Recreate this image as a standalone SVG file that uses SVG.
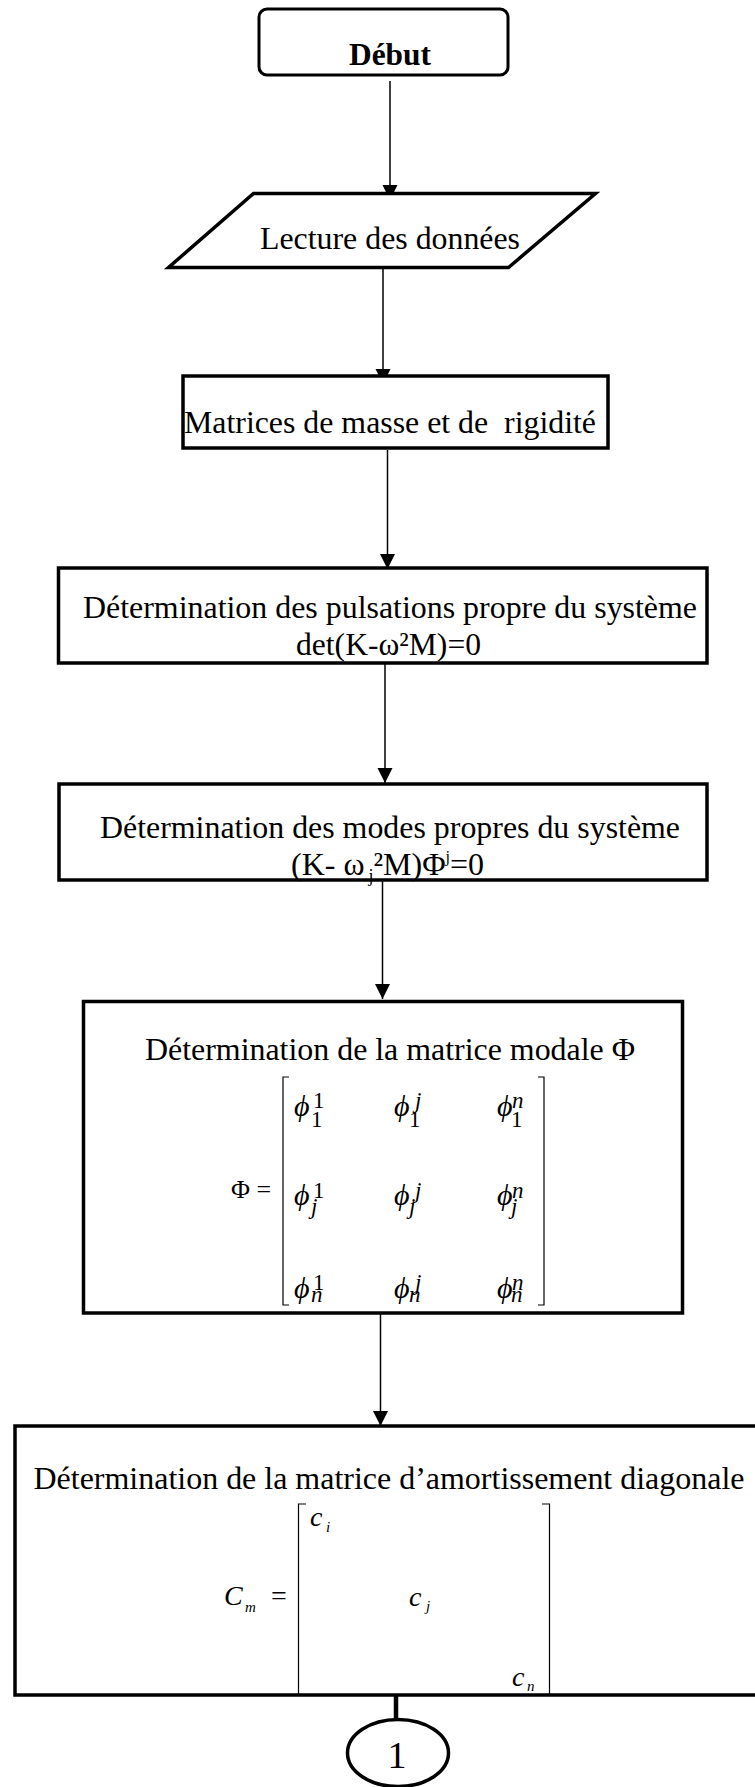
<svg xmlns="http://www.w3.org/2000/svg" width="755" height="1787" viewBox="0 0 755 1787">
<style>
text{font-family:"Liberation Serif","Times New Roman",serif;fill:#000}
.t{font-size:32px}
.b{font-weight:bold}
.box{fill:#fff;stroke:#000;stroke-width:3.5}
.conn{stroke:#000;stroke-width:1.5;fill:none}
.brk{stroke:#000;stroke-width:1.2;fill:none}
.ph{font-size:30px;font-style:italic}
.sc{font-size:23px;font-style:normal}
.si{font-size:23px;font-style:italic}
.c{font-size:28px;font-style:italic}
.cs{font-size:15px;font-style:italic}
</style>
<defs>
<marker id="arr" markerUnits="userSpaceOnUse" markerWidth="16" markerHeight="16" refX="15" refY="7.5" orient="auto">
<path d="M0,0 L15,7.5 L0,15 Z" fill="#000"/>
</marker>
</defs>
<rect width="755" height="1787" fill="#fff"/>

<g id="connectors">
<line class="conn" x1="390" y1="81" x2="390" y2="200" marker-end="url(#arr)"/>
<line class="conn" x1="383" y1="266" x2="383" y2="384" marker-end="url(#arr)"/>
<line class="conn" x1="387.5" y1="450" x2="387.5" y2="569" marker-end="url(#arr)"/>
<line class="conn" x1="385" y1="663" x2="385" y2="783" marker-end="url(#arr)"/>
<line class="conn" x1="382.5" y1="880" x2="382.5" y2="999" marker-end="url(#arr)"/>
<line class="conn" x1="380.5" y1="1309" x2="380.5" y2="1426" marker-end="url(#arr)"/>
<line x1="396" y1="1695" x2="396" y2="1720" stroke="#000" stroke-width="4.5"/>
</g>

<g id="debut">
<rect x="259" y="9" width="249" height="66" rx="8" fill="#fff" stroke="#000" stroke-width="3"/>
<text class="t b" x="349" y="65" textLength="82" lengthAdjust="spacingAndGlyphs">Début</text>
</g>

<g id="lecture">
<polygon class="box" points="253.5,193.5 595.5,193.5 508.5,267.5 168.5,267.5"/>
<text class="t" x="260" y="249" textLength="260" lengthAdjust="spacingAndGlyphs">Lecture des données</text>
</g>

<g id="matrices">
<rect class="box" x="183" y="376" width="425" height="72"/>
<text class="t" x="184" y="433" textLength="412" lengthAdjust="spacingAndGlyphs" xml:space="preserve">Matrices de masse et de  rigidité</text>
</g>

<g id="pulsations">
<rect class="box" x="58.5" y="568" width="648.5" height="95"/>
<text class="t" x="83" y="618" textLength="614" lengthAdjust="spacingAndGlyphs">Détermination des pulsations propre du système</text>
<text class="t" x="296" y="655" textLength="185" lengthAdjust="spacingAndGlyphs">det(K-ω²M)=0</text>
</g>

<g id="modes">
<rect class="box" x="59" y="784" width="648" height="96"/>
<text class="t" x="100" y="838" textLength="580" lengthAdjust="spacingAndGlyphs">Détermination des modes propres du système</text>
<text class="t" x="291" y="875">(K- ω <tspan font-size="18" dx="-4" dy="7">j</tspan><tspan dy="-7">²M)Φ</tspan><tspan font-size="16" dy="-13">j</tspan><tspan dy="13">=0</tspan></text>
</g>

<g id="modale">
<rect class="box" x="83.5" y="1001.5" width="599" height="311.5"/>
<text class="t" x="145" y="1060" textLength="490" lengthAdjust="spacingAndGlyphs">Détermination de la matrice modale Φ</text>
<text x="231" y="1198" font-size="26">Φ =</text>
<path class="brk" d="M289,1077 H283 V1305 H289"/>
<path class="brk" d="M538,1077 H544 V1305 H538"/>
<text class="ph" x="294" y="1116">ϕ<tspan class="sc" x="313" y="1108">1</tspan><tspan class="sc" x="311" y="1127">1</tspan></text>
<text class="ph" x="394" y="1116">ϕ<tspan class="si" x="415" y="1108">j</tspan><tspan class="sc" x="409" y="1127">1</tspan></text>
<text class="ph" x="497" y="1116">ϕ<tspan class="si" x="512" y="1108">n</tspan><tspan class="sc" x="511" y="1127">1</tspan></text>
<text class="ph" x="294" y="1205">ϕ<tspan class="sc" x="313" y="1198">1</tspan><tspan class="si" x="311" y="1214">j</tspan></text>
<text class="ph" x="394" y="1205">ϕ<tspan class="si" x="415" y="1198">j</tspan><tspan class="si" x="409" y="1214">j</tspan></text>
<text class="ph" x="497" y="1205">ϕ<tspan class="si" x="512" y="1198">n</tspan><tspan class="si" x="511" y="1214">j</tspan></text>
<text class="ph" x="294" y="1298">ϕ<tspan class="sc" x="313" y="1290">1</tspan><tspan class="si" x="311" y="1302">n</tspan></text>
<text class="ph" x="394" y="1298">ϕ<tspan class="si" x="415" y="1290">j</tspan><tspan class="si" x="409" y="1302">n</tspan></text>
<text class="ph" x="497" y="1298">ϕ<tspan class="si" x="512" y="1290">n</tspan><tspan class="si" x="511" y="1302">n</tspan></text>
</g>

<g id="amortissement">
<rect class="box" x="15" y="1426" width="760" height="269"/>
<text class="t" x="33.5" y="1489" textLength="711" lengthAdjust="spacingAndGlyphs">Détermination de la matrice d’amortissement diagonale</text>
<text class="c" x="224" y="1605">C<tspan class="cs" x="245" y="1612">m</tspan></text>
<text x="271" y="1605" font-size="28">=</text>
<path class="brk" d="M306,1504 H298.5 V1695"/>
<path class="brk" d="M542,1504 H549.5 V1695"/>
<text class="c" x="310" y="1526">c<tspan class="cs" x="326" y="1532">i</tspan></text>
<text class="c" x="409" y="1606">c<tspan class="cs" x="426" y="1611">j</tspan></text>
<text class="c" x="512" y="1686">c<tspan class="cs" x="527" y="1691">n</tspan></text>
</g>

<g id="connecteur1">
<ellipse cx="398" cy="1753" rx="50.5" ry="33.5" fill="#fff" stroke="#000" stroke-width="3.5"/>
<text x="397" y="1768" font-size="38" text-anchor="middle">1</text>
</g>
</svg>
